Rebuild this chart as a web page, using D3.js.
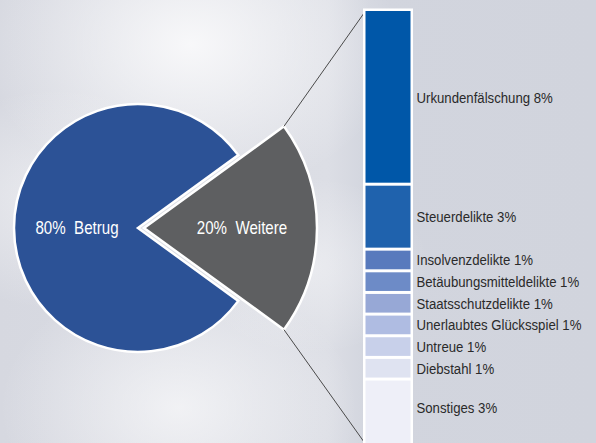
<!DOCTYPE html>
<html>
<head>
<meta charset="utf-8">
<script src="https://cdn.jsdelivr.net/npm/d3@7"></script>
<style>
  html, body { margin: 0; padding: 0; background: #d3d6de; }
  svg { display: block; }
  text { font-family: "Liberation Sans", Arial, sans-serif; }
</style>
</head>
<body>
<div id="chart"></div>
<script>
// pie data
var pieNames = ["Betrug", "Weitere"]
var pieValues = [80, 20]
var pieColors = ["#2c5296", "#5e5f61"]

// breakdown of "Weitere"
var barNames = ["Urkundenfälschung", "Steuerdelikte", "Insolvenzdelikte", "Betäubungsmitteldelikte",
    "Staatsschutzdelikte", "Unerlaubtes Glücksspiel", "Untreue", "Diebstahl", "Sonstiges"]
var barValues = [8, 3, 1, 1, 1, 1, 1, 1, 3]
var barColors = ["#0057a8", "#1f62ad", "#587abd", "#6d8bc7", "#97a8d6", "#afbce2", "#c8d0ea", "#dfe3f1", "#eeeff8"]

var width = 596, height = 443
var narrow = 0.88   // condensed look, no narrow font installed

var svg = d3.select("#chart")
    .append("svg")
        .attr("width", width)
        .attr("height", height)

// cloudy background
var defs = svg.append("defs")
var clouds = [
    {id: "c1", cx: 0.32, cy: 0.10, r: 0.35, o: 0.9},
    {id: "c2", cx: 0.10, cy: 0.45, r: 0.25, o: 0.55},
    {id: "c3", cx: 0.30, cy: 0.92, r: 0.30, o: 0.7},
    {id: "c4", cx: 0.52, cy: 0.60, r: 0.20, o: 0.45}
]
clouds.forEach(function(c){
    var g = defs.append("radialGradient").attr("id", c.id)
    g.append("stop").attr("offset", "0%").attr("stop-color", "#fbfbfc").attr("stop-opacity", c.o)
    g.append("stop").attr("offset", "100%").attr("stop-color", "#fbfbfc").attr("stop-opacity", 0)
})
var bgGrad = defs.append("linearGradient").attr("id", "bg").attr("x1", 0).attr("x2", 1).attr("y1", 0).attr("y2", 0)
bgGrad.append("stop").attr("offset", "0%").attr("stop-color", "#d6d8e0")
bgGrad.append("stop").attr("offset", "55%").attr("stop-color", "#dcdee5")
bgGrad.append("stop").attr("offset", "62%").attr("stop-color", "#d2d5de")
bgGrad.append("stop").attr("offset", "100%").attr("stop-color", "#d1d4dd")

svg.append("rect")
    .attr("width", width).attr("height", height)
    .attr("fill", "url(#bg)")

clouds.forEach(function(c){
    svg.append("ellipse")
        .attr("cx", c.cx * width)
        .attr("cy", c.cy * height)
        .attr("rx", c.r * width)
        .attr("ry", c.r * height)
        .attr("fill", "url(#" + c.id + ")")
})

// pie
var cx = 138, cy = 228
var pie = d3.pie()
    .sort(null)
    .startAngle(0.7 * Math.PI)
    .endAngle(2.7 * Math.PI)
    .value(function(d){ return d; })

var arcs = pie(pieValues)
var radius = [124, 173]
var offset = [0, 6]
var labelR = [61, 98]

var pieG = svg.append("g")
    .attr("transform", "translate(" + cx + "," + cy + ")")

var slices = pieG.selectAll(".slice")
    .data(arcs)
    .enter()
    .append("g")
        .attr("class", "slice")
        .attr("transform", function(d, i){
            var a = (d.startAngle + d.endAngle) / 2
            return "translate(" + (Math.sin(a) * offset[i]) + "," + (-Math.cos(a) * offset[i]) + ")"
        })

slices.append("path")
    .attr("d", function(d, i){
        return d3.arc().innerRadius(0).outerRadius(radius[i])(d)
    })
    .attr("fill", function(d, i){ return pieColors[i]; })
    .attr("stroke", "#fff")
    .attr("stroke-width", 2.5)
    .attr("stroke-linejoin", "miter")

slices.append("text")
    .attr("transform", function(d, i){
        var c = d3.arc().innerRadius(labelR[i]).outerRadius(labelR[i]).centroid(d)
        return "translate(" + c + ") scale(0.84,1)"
    })
    .attr("text-anchor", "middle")
    .attr("dominant-baseline", "central")
    .attr("font-size", "18px")
    .attr("fill", "#fff")
    .text(function(d, i){ return pieValues[i] + "%\u00a0 " + pieNames[i]; })

// stacked bar
var barX = 365.5, barW = 45
var total = d3.sum(barValues)
var y = d3.scaleLinear()
    .domain([0, total])
    .range([11, 444])

var cum = 0
var stack = barValues.map(function(v, i){
    var s = {name: barNames[i], value: v, y0: cum, y1: cum + v, color: barColors[i]}
    cum += v
    return s
})

// connector lines from the grey slice to the bar
var gA = arcs[1]
var gx = cx + offset[1]
var connectors = [
    {a: gA.startAngle, b: y(0)},
    {a: gA.endAngle, b: y(total)}
]
svg.selectAll(".connector")
    .data(connectors)
    .enter()
    .append("line")
        .attr("class", "connector")
        .attr("x1", function(d){ return gx + Math.sin(d.a) * radius[1]; })
        .attr("y1", function(d){ return cy - Math.cos(d.a) * radius[1]; })
        .attr("x2", barX)
        .attr("y2", function(d){ return d.b; })
        .attr("stroke", "#4a4a4a")
        .attr("stroke-width", 1)

svg.append("rect")
    .attr("x", barX - 2.5)
    .attr("y", y(0) - 2.5)
    .attr("width", barW + 5)
    .attr("height", y(total) - y(0) + 5)
    .attr("fill", "#fff")

var bar = svg.append("g")

bar.selectAll(".seg")
    .data(stack)
    .enter()
    .append("rect")
        .attr("class", "seg")
        .attr("x", barX)
        .attr("y", function(d){ return y(d.y0) + (d.y0 > 0 ? 1.5 : 0); })
        .attr("width", barW)
        .attr("height", function(d){
            return y(d.y1) - y(d.y0) - (d.y0 > 0 ? 1.5 : 0) - (d.y1 < total ? 1.5 : 0)
        })
        .attr("fill", function(d){ return d.color; })

bar.selectAll(".lbl")
    .data(stack)
    .enter()
    .append("text")
        .attr("class", "lbl")
        .attr("transform", function(d){
            var ty = (y(d.y0) + y(d.y1)) / 2
            if (d.y1 === total) ty -= 4
            return "translate(" + (barX + barW + 6) + "," + ty + ") scale(" + narrow + ",1)"
        })
        .attr("dominant-baseline", "central")
        .attr("font-size", "15px")
        .attr("fill", "#2a2a2a")
        .text(function(d){ return d.name + " " + d.value + "%"; })
</script>
</body>
</html>
